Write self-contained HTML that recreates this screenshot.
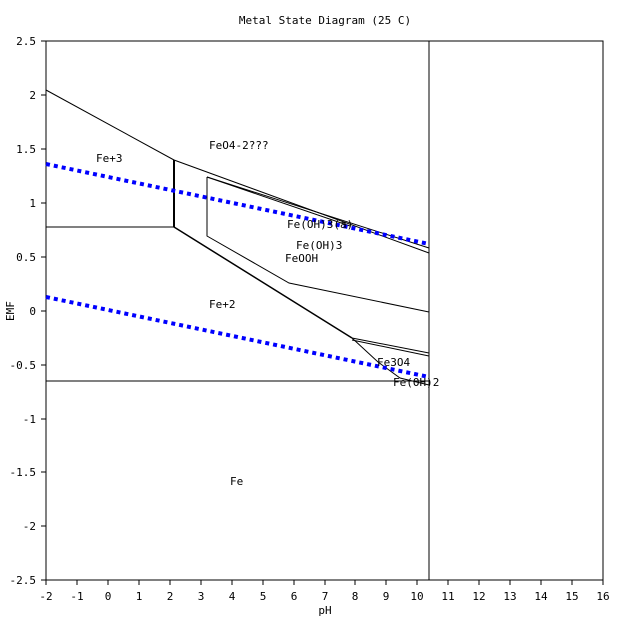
<!DOCTYPE html>
<html><head><style>
body{margin:0;background:#fff;}
svg text{font-family:"DejaVu Sans Mono","Liberation Mono",monospace;font-size:11px;fill:#000;}
</style></head><body>
<svg width="623" height="619" xmlns="http://www.w3.org/2000/svg">
<rect width="623" height="619" fill="#fff"/>
<text x="325" y="24" text-anchor="middle">Metal State Diagram (25 C)</text>
<rect x="46" y="41" width="557" height="539" fill="none" stroke="#000" stroke-width="1"/>
<g stroke="#000" stroke-width="1">
<line x1="41" y1="41" x2="46" y2="41"/><line x1="41" y1="95" x2="46" y2="95"/><line x1="41" y1="149" x2="46" y2="149"/><line x1="41" y1="203" x2="46" y2="203"/><line x1="41" y1="257" x2="46" y2="257"/><line x1="41" y1="311" x2="46" y2="311"/><line x1="41" y1="365" x2="46" y2="365"/><line x1="41" y1="419" x2="46" y2="419"/><line x1="41" y1="472" x2="46" y2="472"/><line x1="41" y1="526" x2="46" y2="526"/><line x1="41" y1="580" x2="46" y2="580"/>
</g>
<g text-anchor="end">
<text x="36" y="45">2.5</text><text x="36" y="99">2</text><text x="36" y="153">1.5</text><text x="36" y="207">1</text><text x="36" y="261">0.5</text><text x="36" y="315">0</text><text x="36" y="369">-0.5</text><text x="36" y="423">-1</text><text x="36" y="476">-1.5</text><text x="36" y="530">-2</text><text x="36" y="584">-2.5</text>
</g>
<g id="xt" stroke="#000"></g>
<g text-anchor="middle">
<text x="46" y="600">-2</text><text x="77" y="600">-1</text><text x="108" y="600">0</text><text x="139" y="600">1</text><text x="170" y="600">2</text><text x="201" y="600">3</text><text x="232" y="600">4</text><text x="263" y="600">5</text><text x="294" y="600">6</text><text x="325" y="600">7</text><text x="355" y="600">8</text><text x="386" y="600">9</text><text x="417" y="600">10</text><text x="448" y="600">11</text><text x="479" y="600">12</text><text x="510" y="600">13</text><text x="541" y="600">14</text><text x="572" y="600">15</text><text x="603" y="600">16</text>
<text x="325" y="614">pH</text>
</g>
<g stroke="#000">
<line x1="46" y1="580" x2="46" y2="585"/><line x1="77" y1="580" x2="77" y2="585"/><line x1="108" y1="580" x2="108" y2="585"/><line x1="139" y1="580" x2="139" y2="585"/><line x1="170" y1="580" x2="170" y2="585"/><line x1="201" y1="580" x2="201" y2="585"/><line x1="232" y1="580" x2="232" y2="585"/><line x1="263" y1="580" x2="263" y2="585"/><line x1="294" y1="580" x2="294" y2="585"/><line x1="325" y1="580" x2="325" y2="585"/><line x1="355" y1="580" x2="355" y2="585"/><line x1="386" y1="580" x2="386" y2="585"/><line x1="417" y1="580" x2="417" y2="585"/><line x1="448" y1="580" x2="448" y2="585"/><line x1="479" y1="580" x2="479" y2="585"/><line x1="510" y1="580" x2="510" y2="585"/><line x1="541" y1="580" x2="541" y2="585"/><line x1="572" y1="580" x2="572" y2="585"/><line x1="603" y1="580" x2="603" y2="585"/>
</g>
<text x="14" y="311" text-anchor="middle" transform="rotate(-90 14 311)">EMF</text>
<g stroke="#000" fill="none" stroke-width="1">
<line x1="429" y1="41" x2="429" y2="580"/>
<polyline points="46,90 174,160 429,253"/>
<line x1="174" y1="160" x2="174" y2="227" stroke-width="2"/>
<line x1="46" y1="227" x2="174" y2="227"/>
<line x1="46" y1="381" x2="429" y2="381"/>
<polyline points="174,227 352,338" stroke-width="1.5"/>
<polyline points="352,338 429,353"/>
<polyline points="352,340 429,356"/>
<polyline points="352,338 378,362 400,378 429,385"/>
<polyline points="207,177 207,236 289,283 429,312"/>
<polyline points="207,177 350,226"/>
<polyline points="207,177 429,248"/>
</g>
<g stroke="#0000ff" stroke-width="4" stroke-dasharray="4 4">
<line x1="46" y1="164" x2="429" y2="244"/>
<line x1="46" y1="297" x2="429" y2="377"/>
</g>
<text x="96" y="162">Fe+3</text>
<text x="209" y="149">FeO4-2???</text>
<text x="287" y="228">Fe(OH)3(a)</text>
<text x="296" y="249">Fe(OH)3</text>
<text x="285" y="262">FeOOH</text>
<text x="209" y="308">Fe+2</text>
<text x="377" y="366">Fe3O4</text>
<text x="393" y="386">Fe(OH)2</text>
<text x="230" y="485">Fe</text>
</svg>
</body></html>
